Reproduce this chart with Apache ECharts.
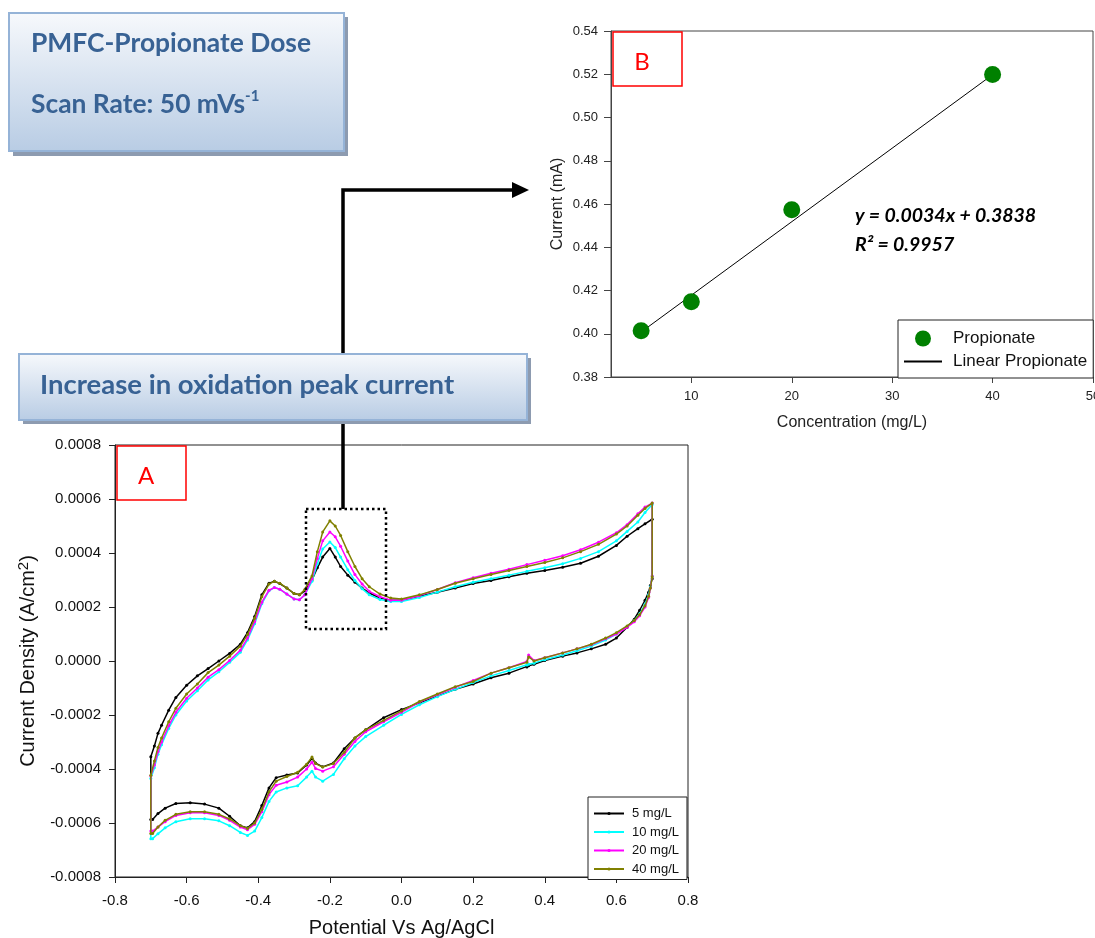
<!DOCTYPE html>
<html>
<head>
<meta charset="utf-8">
<script src="https://cdn.jsdelivr.net/npm/echarts@6/dist/echarts.min.js"></script>
<style>
html,body{margin:0;padding:0;background:#fff;}
#main{width:1095px;height:938px;}
</style>
</head>
<body>
<div id="main"></div>
<script>
// ---------- Panel B: calibration ----------
const concentration = [5, 10, 20, 40];           // mg/L
const peakCurrent   = [0.4014, 0.4148, 0.4573, 0.5199]; // mA
const fitX = [5, 40];
const fitY = [0.4008, 0.5198];
const concTicks = [10, 20, 30, 40, 50];

// ---------- Panel A: cyclic voltammograms ----------
// current density values in units of 1e-4 A/cm^2
const UNIT = 1e-4;
const legendNames = ['5 mg/L', '10 mg/L', '20 mg/L', '40 mg/L'];
const seriesColors = ['#000000', '#00ffff', '#ff00ff', '#808000'];

// forward (anodic) scan potentials, V vs Ag/AgCl
const potentialFwd = [
  -0.70, -0.70, -0.69, -0.68, -0.67, -0.65, -0.63, -0.60, -0.57, -0.54,
  -0.51, -0.48, -0.45, -0.43, -0.41, -0.39, -0.37, -0.355, -0.34, -0.32,
  -0.30, -0.285, -0.27, -0.25, -0.235, -0.22, -0.20, -0.185, -0.17, -0.15,
  -0.13, -0.11, -0.09, -0.06, -0.03, 0.00, 0.05, 0.10, 0.15, 0.20,
  0.25, 0.30, 0.35, 0.40, 0.45, 0.50, 0.55, 0.60, 0.63, 0.66,
  0.68, 0.70
];
// reverse (cathodic) scan potentials
const potentialRev = [
  0.70, 0.695, 0.69, 0.68, 0.665, 0.65, 0.63, 0.60, 0.57, 0.53,
  0.49, 0.45, 0.40, 0.37, 0.355, 0.35, 0.30, 0.25, 0.20, 0.15,
  0.10, 0.05, 0.00, -0.05, -0.10, -0.13, -0.16, -0.19, -0.22, -0.24,
  -0.25, -0.265, -0.29, -0.32, -0.35, -0.37, -0.39, -0.41, -0.43, -0.45,
  -0.48, -0.51, -0.55, -0.59, -0.63, -0.66, -0.68, -0.695
];

const cd5Fwd = [
  -5.87, -3.55, -3.15, -2.68, -2.38, -1.82, -1.35, -0.90, -0.55, -0.28,
  0.00, 0.28, 0.62, 1.05, 1.65, 2.45, 2.88, 2.95, 2.87, 2.70,
  2.50, 2.45, 2.60, 3.00, 3.45, 3.85, 4.17, 3.85, 3.50, 3.18,
  2.92, 2.70, 2.52, 2.33, 2.25, 2.25, 2.40, 2.55, 2.70, 2.87,
  2.98, 3.12, 3.25, 3.35, 3.47, 3.62, 3.88, 4.28, 4.62, 4.90,
  5.08, 5.25
];
const cd5Rev = [
  3.05, 2.80, 2.55, 2.25, 1.88, 1.55, 1.25, 0.85, 0.62, 0.45,
  0.30, 0.18, 0.02, -0.12, -0.18, -0.22, -0.45, -0.62, -0.85, -1.05,
  -1.30, -1.55, -1.80, -2.10, -2.55, -2.85, -3.25, -3.78, -3.92, -3.78,
  -3.61, -3.85, -4.15, -4.22, -4.32, -4.70, -5.35, -5.95, -6.18, -6.10,
  -5.75, -5.45, -5.30, -5.25, -5.28, -5.45, -5.65, -5.87
];

const cd10Fwd = [
  -6.58, -4.35, -3.95, -3.45, -3.10, -2.50, -2.00, -1.48, -1.10, -0.70,
  -0.40, -0.05, 0.32, 0.78, 1.38, 2.12, 2.60, 2.72, 2.66, 2.48,
  2.30, 2.27, 2.45, 2.95, 3.60, 4.15, 4.41, 4.20, 3.85, 3.38,
  2.98, 2.68, 2.45, 2.28, 2.20, 2.20, 2.35, 2.55, 2.75, 2.92,
  3.05, 3.18, 3.32, 3.45, 3.60, 3.80, 4.05, 4.45, 4.80, 5.15,
  5.50, 5.80
];
const cd10Rev = [
  3.15, 2.75, 2.45, 2.10, 1.75, 1.50, 1.28, 1.00, 0.78, 0.55,
  0.38, 0.22, 0.05, -0.08, -0.12, -0.15, -0.35, -0.55, -0.80, -1.05,
  -1.32, -1.62, -1.98, -2.38, -2.80, -3.15, -3.62, -4.20, -4.45, -4.30,
  -4.08, -4.30, -4.62, -4.70, -4.85, -5.20, -5.80, -6.30, -6.46, -6.35,
  -6.10, -5.92, -5.84, -5.84, -5.95, -6.18, -6.40, -6.58
];

const cd20Fwd = [
  -6.30, -4.26, -3.85, -3.35, -3.00, -2.40, -1.90, -1.38, -1.00, -0.60,
  -0.32, 0.02, 0.40, 0.85, 1.45, 2.18, 2.62, 2.72, 2.66, 2.48,
  2.30, 2.27, 2.45, 3.05, 3.80, 4.45, 4.78, 4.60, 4.25, 3.70,
  3.20, 2.85, 2.58, 2.38, 2.25, 2.25, 2.42, 2.65, 2.90, 3.08,
  3.25, 3.40, 3.57, 3.73, 3.90, 4.12, 4.40, 4.75, 5.05, 5.45,
  5.70, 5.85
];
const cd20Rev = [
  3.15, 2.70, 2.35, 2.00, 1.68, 1.45, 1.25, 1.00, 0.82, 0.60,
  0.45, 0.30, 0.12, 0.02, 0.22, -0.02, -0.25, -0.45, -0.72, -0.97,
  -1.25, -1.52, -1.90, -2.25, -2.62, -2.98, -3.45, -3.92, -4.08, -3.98,
  -3.75, -4.00, -4.30, -4.48, -4.60, -4.95, -5.58, -6.05, -6.25, -6.15,
  -5.90, -5.72, -5.62, -5.62, -5.72, -5.95, -6.15, -6.30
];

const cd40Fwd = [
  -6.39, -4.23, -3.70, -3.20, -2.85, -2.25, -1.75, -1.22, -0.85, -0.43,
  -0.15, 0.18, 0.55, 0.98, 1.58, 2.38, 2.85, 2.95, 2.88, 2.70,
  2.50, 2.45, 2.65, 3.15, 4.05, 4.78, 5.19, 5.00, 4.65, 4.05,
  3.50, 3.05, 2.75, 2.48, 2.33, 2.30, 2.45, 2.65, 2.88, 3.05,
  3.20, 3.35, 3.50, 3.65, 3.82, 4.05, 4.32, 4.70, 5.00, 5.40,
  5.65, 5.85
];
const cd40Rev = [
  3.11, 2.70, 2.40, 2.05, 1.72, 1.50, 1.30, 1.05, 0.85, 0.62,
  0.45, 0.30, 0.12, 0.00, 0.15, -0.05, -0.25, -0.45, -0.76, -0.95,
  -1.22, -1.50, -1.85, -2.20, -2.55, -2.85, -3.38, -3.80, -3.93, -3.80,
  -3.56, -3.82, -4.12, -4.28, -4.45, -4.85, -5.50, -6.00, -6.20, -6.10,
  -5.85, -5.68, -5.58, -5.58, -5.68, -5.90, -6.15, -6.39
];

// ---------- build ----------
function cvData(fwd, rev) {
  const d = [];
  const n1 = Math.min(potentialFwd.length, fwd.length);
  for (let i = 0; i < n1; i++) d.push([potentialFwd[i], fwd[i] * UNIT]);
  const n2 = Math.min(potentialRev.length, rev.length);
  for (let i = 0; i < n2; i++) d.push([potentialRev[i], rev[i] * UNIT]);
  return d;
}
const cvSets = [[cd5Fwd, cd5Rev], [cd10Fwd, cd10Rev], [cd20Fwd, cd20Rev], [cd40Fwd, cd40Rev]];

const FONT = '"Liberation Sans", Arial, sans-serif';
const CAL = 'Lato, "Open Sans", sans-serif';

function fmt(v, d) { if (Math.abs(v) < 1e-12) v = 0; return v.toFixed(d); }

const cvSeries = cvSets.map((s, i) => ({
  name: legendNames[i],
  type: 'line',
  xAxisIndex: 1, yAxisIndex: 1,
  data: cvData(s[0], s[1]),
  symbol: 'circle', symbolSize: 3, showSymbol: true,
  itemStyle: { color: seriesColors[i] },
  lineStyle: { color: seriesColors[i], width: 1.5 },
  z: 3 + i
}));

const chart = echarts.init(document.getElementById('main'), null, { renderer: 'canvas' });

const boxGrad = {
  type: 'linear', x: 0, y: 0, x2: 0, y2: 1,
  colorStops: [{ offset: 0, color: '#f7f9fc' }, { offset: 1, color: '#b8cce4' }]
};

const option = {
  animation: false,
  backgroundColor: '#ffffff',
  grid: [
    { left: 611, top: 31, width: 482, height: 346, show: true, borderColor: '#444', borderWidth: 1, backgroundColor: 'transparent', outerBoundsMode: 'none', containLabel: false },
    { left: 115, top: 445, width: 573, height: 432, show: true, borderColor: '#222', borderWidth: 1, backgroundColor: 'transparent', outerBoundsMode: 'none', containLabel: false }
  ],
  xAxis: [
    {
      gridIndex: 0, type: 'value', min: 2, max: 50,
      axisLine: { onZero: false, lineStyle: { color: '#444', width: 1 } },
      axisTick: { show: true, length: 6, customValues: concTicks, lineStyle: { color: '#444' } },
      axisLabel: { customValues: concTicks, fontSize: 13, color: '#222', margin: 13, fontFamily: FONT },
      splitLine: { show: false },
      name: 'Concentration (mg/L)', nameLocation: 'middle', nameGap: 38,
      nameTextStyle: { fontSize: 16, color: '#222', fontFamily: FONT }
    },
    {
      gridIndex: 1, type: 'value', min: -0.8, max: 0.8, interval: 0.2,
      axisLine: { onZero: false, lineStyle: { color: '#222', width: 1 } },
      axisTick: { show: true, length: 6, lineStyle: { color: '#222' } },
      axisLabel: { fontSize: 15, color: '#111', margin: 16, fontFamily: FONT, formatter: v => fmt(v, 1) },
      splitLine: { show: false },
      name: 'Potential Vs Ag/AgCl', nameLocation: 'middle', nameGap: 41,
      nameTextStyle: { fontSize: 20, color: '#111', fontFamily: FONT }
    }
  ],
  yAxis: [
    {
      gridIndex: 0, type: 'value', min: 0.38, max: 0.54, interval: 0.02,
      axisLine: { show: true, onZero: false, lineStyle: { color: '#444', width: 1 } },
      axisTick: { show: true, length: 7, lineStyle: { color: '#444' } },
      axisLabel: { fontSize: 13, color: '#222', margin: 13, fontFamily: FONT, formatter: v => fmt(v, 2) },
      splitLine: { show: false },
      name: 'Current (mA)', nameLocation: 'middle', nameGap: 45,
      nameTextStyle: { fontSize: 16, color: '#222', fontFamily: FONT }
    },
    {
      gridIndex: 1, type: 'value', min: -0.0008, max: 0.0008, interval: 0.0002,
      axisLine: { show: true, onZero: false, lineStyle: { color: '#222', width: 1 } },
      axisTick: { show: true, length: 6, lineStyle: { color: '#222' } },
      axisLabel: { fontSize: 15, color: '#111', margin: 14, fontFamily: FONT, formatter: v => fmt(v, 4) },
      splitLine: { show: false },
      name: '{a|Current Density (A/cm}{s|2}{a|)}', nameLocation: 'middle', nameGap: 61,
      nameTextStyle: {
        color: '#111', fontFamily: FONT,
        rich: {
          a: { fontSize: 20, color: '#111', fontFamily: FONT, lineHeight: 24 },
          s: { fontSize: 15, color: '#111', fontFamily: FONT, verticalAlign: 'top', lineHeight: 24, padding: [0, 0, 8, 0] }
        }
      }
    }
  ],
  legend: [
    {
      left: 898, top: 320, orient: 'vertical', selectedMode: false,
      padding: [10, 6, 8, 5], itemWidth: 38, itemHeight: 16, itemGap: 6,
      backgroundColor: '#fff', borderColor: '#222', borderWidth: 1,
      textStyle: { fontSize: 17, color: '#111', fontFamily: FONT, padding: [0, 0, 0, 6], width: 140 },
      data: [
        { name: 'Propionate', icon: 'circle' },
        { name: 'Linear Propionate', itemStyle: { opacity: 0 } }
      ]
    },
    {
      left: 588, top: 797, orient: 'vertical', selectedMode: false,
      padding: [10, 8, 4, 5], itemWidth: 30, itemHeight: 4, itemGap: 5.5,
      backgroundColor: '#fff', borderColor: '#222', borderWidth: 1,
      textStyle: { fontSize: 13, color: '#111', fontFamily: FONT, padding: [0, 0, 0, 3] },
      data: legendNames
    }
  ],
  series: [
    {
      name: 'Propionate', type: 'scatter', xAxisIndex: 0, yAxisIndex: 0,
      data: concentration.map((c, i) => [c, peakCurrent[i]]),
      symbol: 'circle', symbolSize: 17,
      itemStyle: { color: '#008000', opacity: 1 }, z: 4
    },
    {
      name: 'Linear Propionate', type: 'line', xAxisIndex: 0, yAxisIndex: 0,
      data: fitX.map((x, i) => [x, fitY[i]]),
      symbol: 'none', showSymbol: false,
      itemStyle: { color: '#000' },
      lineStyle: { color: '#000', width: 1 }, z: 3
    }
  ].concat(cvSeries),
  graphic: [
    // title box (shadow + box)
    { type: 'rect', shape: { x: 13, y: 17, width: 335, height: 139 }, style: { fill: '#8d9bb0' }, z: 10 },
    { type: 'rect', shape: { x: 9, y: 13, width: 335, height: 138 }, style: { fill: boxGrad, stroke: '#95b3d7', lineWidth: 2 }, z: 11 },
    { type: 'text', x: 31, y: 43, style: { text: 'PMFC-Propionate Dose', font: 'bold 26.4px ' + CAL, fill: '#386294', verticalAlign: 'middle' }, z: 12 },
    { type: 'text', x: 31, y: 104, style: {
        text: '{a|Scan Rate: 50 mVs}{s|-1}', verticalAlign: 'middle',
        rich: {
          a: { font: 'bold 26.4px ' + CAL, fill: '#386294', lineHeight: 30 },
          s: { font: 'bold 15px ' + CAL, fill: '#386294', verticalAlign: 'top', lineHeight: 30, padding: [0, 0, 10, 0] }
        }
      }, z: 12 },
    // arrow path from dotted box to panel B
    { type: 'polyline', shape: { points: [[343, 509], [343, 190], [514, 190]] }, style: { stroke: '#000', lineWidth: 3.5, fill: null }, z: 10 },
    { type: 'polygon', shape: { points: [[512, 182], [529, 190], [512, 198]] }, style: { fill: '#000' }, z: 10 },
    // oxidation box
    { type: 'rect', shape: { x: 23, y: 358, width: 508, height: 66 }, style: { fill: '#8d9bb0' }, z: 11 },
    { type: 'rect', shape: { x: 19, y: 354, width: 508, height: 66 }, style: { fill: boxGrad, stroke: '#95b3d7', lineWidth: 2 }, z: 12 },
    { type: 'text', x: 40, y: 385, style: { text: 'Increase in oxidation peak current', font: 'bold 27.5px ' + CAL, fill: '#386294', verticalAlign: 'middle' }, z: 13 },
    // dotted highlight box
    { type: 'rect', shape: { x: 306, y: 509, width: 80, height: 120 }, style: { fill: null, stroke: '#000', lineWidth: 2.5, lineDash: [2.5, 3] }, z: 10 },
    // red panel labels
    { type: 'rect', shape: { x: 117, y: 446, width: 69, height: 54 }, style: { fill: null, stroke: '#ff0000', lineWidth: 1.5 }, z: 10 },
    { type: 'text', x: 146, y: 476, style: { text: 'A', font: '24px ' + CAL, fill: '#ff0000', align: 'center', verticalAlign: 'middle' }, z: 10 },
    { type: 'rect', shape: { x: 613, y: 32, width: 69, height: 54 }, style: { fill: null, stroke: '#ff0000', lineWidth: 1.5 }, z: 10 },
    { type: 'text', x: 642, y: 62, style: { text: 'B', font: '24px ' + CAL, fill: '#ff0000', align: 'center', verticalAlign: 'middle' }, z: 10 },
    // regression equation
    { type: 'text', x: 855, y: 216, style: { text: 'y = 0.0034x + 0.3838', font: 'italic bold 19.5px ' + CAL, fill: '#000', verticalAlign: 'middle' }, z: 10 },
    { type: 'text', x: 855, y: 245, style: { text: 'R² = 0.9957', font: 'italic bold 19.5px ' + CAL, fill: '#000', verticalAlign: 'middle' }, z: 10 }
  ]
};

chart.setOption(option);
</script>
</body>
</html>
